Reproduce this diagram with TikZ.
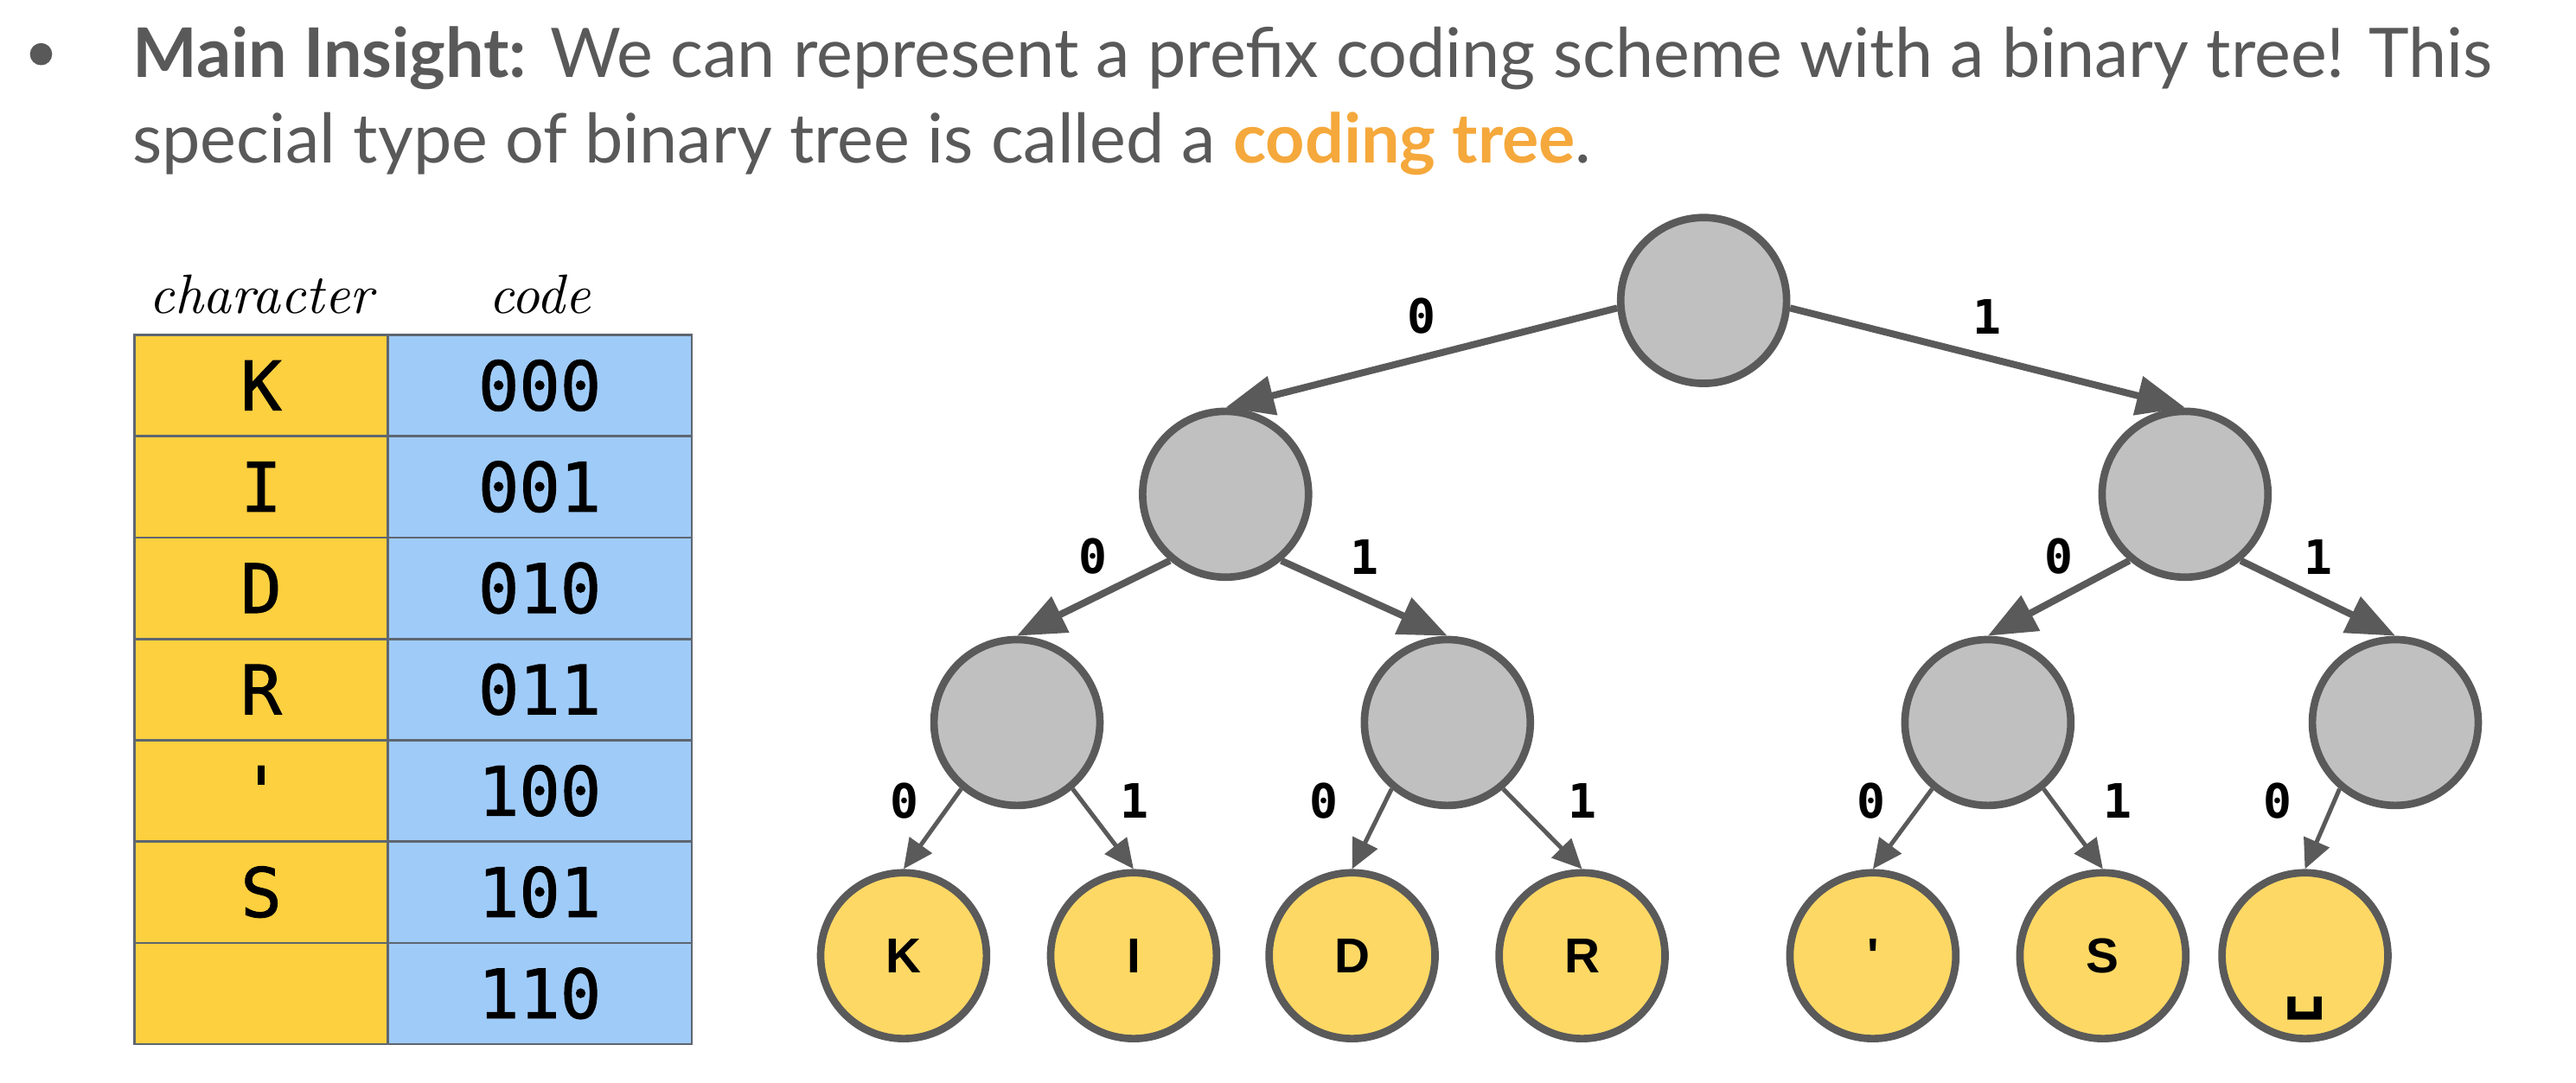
\documentclass[tikz,border=0pt]{standalone}
\usepackage{fontspec}
\usepackage{tikz}
\usetikzlibrary{positioning,arrows.meta}
\newfontfamily\headfont{Lato}
\newfontfamily\codefont{DejaVu Sans Mono}
\newfontfamily\cellfont{DejaVu Sans Mono}[FakeBold=1.2]
\newfontfamily\leaffont{Liberation Sans}
\definecolor{ink}{HTML}{595959}
\definecolor{hilite}{HTML}{F5A83B}
\definecolor{chyellow}{HTML}{FCD03F}
\definecolor{cdblue}{HTML}{9FCBF9}
\definecolor{tabline}{HTML}{5E6670}
\definecolor{edgegray}{HTML}{5A5A5A}
\definecolor{innergray}{HTML}{C0C0C0}
\definecolor{leafyellow}{HTML}{FDD865}

\begin{document}
\begin{tikzpicture}[
  x=1mm, y=1mm,
  >=Stealth,
  node distance=0pt,
  cell/.style={
    rectangle, draw=tabline, line width=0.4pt, inner sep=0pt, outer sep=0pt,
    minimum height=6.17mm, text height=3mm, text depth=0pt,
    font=\cellfont\fontsize{11.8}{12}\selectfont
  },
  chcell/.style={cell, fill=chyellow, minimum width=15.4mm},
  cdcell/.style={cell, fill=cdblue, minimum width=18.5mm},
  colhead/.style={font=\itshape\fontsize{9.6}{11}\selectfont, inner sep=0pt},
  inner/.style={
    circle, draw=edgegray, line width=1.3pt, fill=innergray,
    minimum size=10.1mm, inner sep=0pt
  },
  leaf/.style={
    inner, fill=leafyellow, text height=2.1mm, text depth=0pt,
    font=\leaffont\bfseries\fontsize{8.5}{9}\selectfont
  },
  bit/.style={font=\codefont\bfseries\fontsize{8.2}{9}\selectfont, inner sep=0pt},
  edge/.style={draw=edgegray, line width=1.2pt, -{Triangle[length=2.95mm, width=2.35mm]}},
  twig/.style={draw=edgegray, line width=0.75pt, -{Triangle[length=1.8mm, width=1.65mm]}}
]
\useasboundingbox (0,0) rectangle (156.8,65.9);

% heading
\node (dot) [circle, fill=ink, minimum size=1.35mm, inner sep=0pt] at (2.5,62.6) {};
\node (line1) [anchor=base west, inner sep=0pt, text=ink,
  font=\headfont\fontsize{11.85}{14}\selectfont] at (8.0,61.2)
  {\textbf{Main Insight:} We can represent a prefix coding scheme with a binary tree! This};
\node (line2) [anchor=base west, inner sep=0pt, text=ink,
  font=\headfont\fontsize{11.85}{14}\selectfont] at (8.0,56.0)
  {special type of binary tree is called a \textcolor{hilite}{\textbf{coding tree}}.};

% code table
\node (ch1) [chcell, anchor=north west] at (8.2,45.5) {K};
\node (cd1) [cdcell, right=of ch1] {000};
\node (ch2) [chcell, below=of ch1] {I};
\node (cd2) [cdcell, right=of ch2] {001};
\node (ch3) [chcell, below=of ch2] {D};
\node (cd3) [cdcell, right=of ch3] {010};
\node (ch4) [chcell, below=of ch3] {R};
\node (cd4) [cdcell, right=of ch4] {011};
\node (ch5) [chcell, below=of ch4] {'};
\node (cd5) [cdcell, right=of ch5] {100};
\node (ch6) [chcell, below=of ch5] {S};
\node (cd6) [cdcell, right=of ch6] {101};
\node (ch7) [chcell, below=of ch6] {};
\node (cd7) [cdcell, right=of ch7] {110};

\node (hch) [colhead, above=1.2mm of ch1] {character};
\node (hcd) [colhead, above=1.2mm of cd1] {code};

% coding tree
\node (root) [inner] at (103.7,47.6) {};
\node (n0)   [inner] at (74.6,35.8) {};
\node (n1)   [inner] at (133.0,35.8) {};
\node (n00)  [inner] at (61.9,21.9) {};
\node (n01)  [inner] at (88.1,21.9) {};
\node (n10)  [inner] at (121.0,21.9) {};
\node (n11)  [inner] at (145.8,21.9) {};

\node (lK)  [leaf] at (55.0,7.7) {K};
\node (lI)  [leaf] at (69.0,7.7) {I};
\node (lD)  [leaf] at (82.3,7.7) {D};
\node (lR)  [leaf] at (96.3,7.7) {R};
\node (lQ)  [leaf] at (114.0,7.7) {'};
\node (lS)  [leaf] at (128.0,7.7) {S};
\node (lSp) [leaf] at (140.3,7.7) {\raisebox{-1.9mm}{\codefont\bfseries\fontsize{12}{12}\selectfont ␣}};

\draw[edge] (root.185) -- node[bit, above=1.25mm] {0} (n0.north);
\draw[edge] (root.355) -- node[bit, above=1.25mm] {1} (n1.north);

\draw[edge] (n0.230) -- node[bit, above=1.25mm] {0} (n00.north);
\draw[edge] (n0.310) -- node[bit, above=1.25mm] {1} (n01.north);
\draw[edge] (n1.230) -- node[bit, above=1.25mm] {0} (n10.north);
\draw[edge] (n1.310) -- node[bit, above=1.25mm] {1} (n11.north);

\draw[twig] (n00.230) -- node[bit, xshift=-1.7mm, yshift=1.7mm] {0} (lK.north);
\draw[twig] (n00.310) -- node[bit, xshift=1.9mm, yshift=1.7mm] {1} (lI.north);
\draw[twig] (n01.230) -- node[bit, xshift=-2.9mm, yshift=1.7mm] {0} (lD.north);
\draw[twig] (n01.310) -- node[bit, xshift=2.4mm, yshift=1.7mm] {1} (lR.north);
\draw[twig] (n10.230) -- node[bit, xshift=-1.9mm, yshift=1.7mm] {0} (lQ.north);
\draw[twig] (n10.310) -- node[bit, xshift=2.7mm, yshift=1.7mm] {1} (lS.north);
\draw[twig] (n11.230) -- node[bit, xshift=-2.7mm, yshift=1.7mm] {0} (lSp.north);
\end{tikzpicture}
\end{document}
